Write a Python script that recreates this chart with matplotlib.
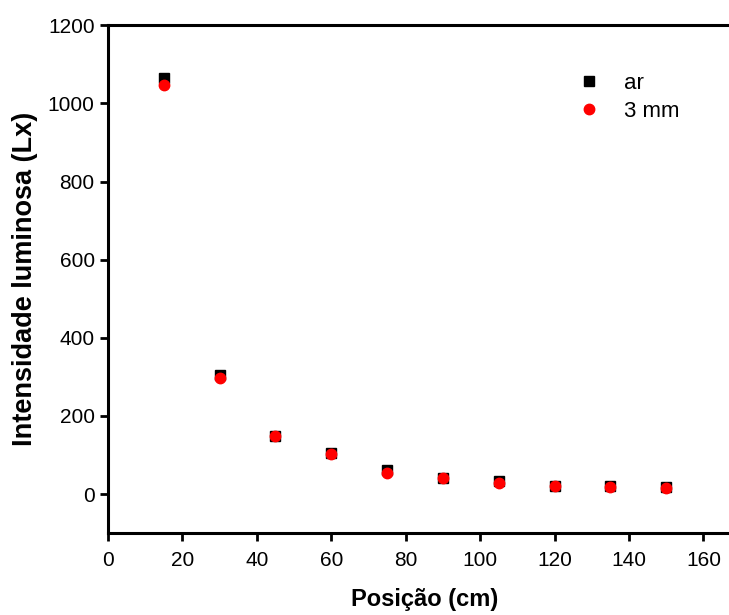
import matplotlib
matplotlib.use("Agg")
import matplotlib.pyplot as plt

plt.rcParams['font.family'] = ['Liberation Sans', 'DejaVu Sans']

# data
posicao = [15, 30, 45, 60, 75, 90, 105, 120, 135, 150]
ar = [1065, 305, 150, 105, 62, 42, 33, 22, 22, 18]
mm3 = [1048, 297, 148, 103, 55, 42, 28, 20, 18, 16]

fig = plt.figure(figsize=(7.29, 6.15), dpi=100)
ax = fig.add_axes([0.148, 0.133, 0.868, 0.826])

ax.plot(posicao, ar, 's', color='black', markersize=7, label='ar')
ax.plot(posicao, mm3, 'o', color='red', markersize=7.5, label='3 mm')

ax.set_xlim(0, 170)
ax.set_ylim(-100, 1200)
ax.set_xticks(range(0, 161, 20))
ax.set_yticks(range(0, 1201, 200))

for s in ax.spines.values():
    s.set_linewidth(2.2)
ax.tick_params(direction='out', length=5.5, width=2, labelsize=15, pad=4)
ax.tick_params(axis='x', pad=7.5)

ax.set_xlabel('Posição (cm)', fontsize=17, fontweight='bold', labelpad=13)
ax.set_ylabel('Intensidade luminosa (Lx)', fontsize=19.5, fontweight='bold', labelpad=7)

ax.legend(loc='upper left', bbox_to_anchor=(0.7, 0.945), frameon=False,
          fontsize=16, handletextpad=0.8, labelspacing=0.3, markerscale=1.0,
          handlelength=1.6)

fig.savefig('out.png', dpi=100)
